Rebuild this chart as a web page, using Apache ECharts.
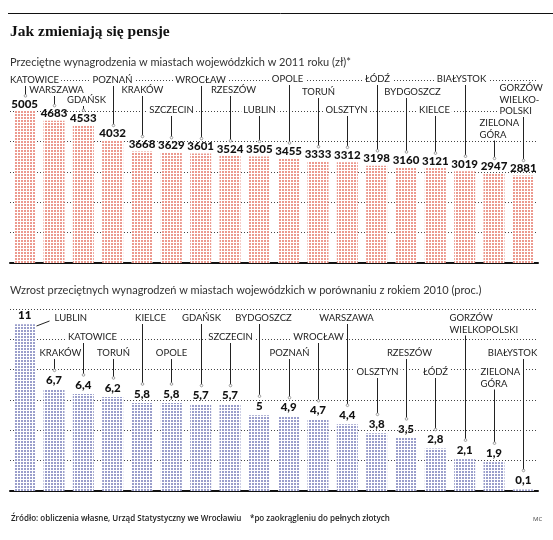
<!DOCTYPE html>
<html>
<head>
<meta charset="utf-8">
<script src="https://cdn.jsdelivr.net/npm/echarts@6/dist/echarts.min.js"></script>
<style>
html,body{margin:0;padding:0;background:#fff;}
#chartsDiv{width:553px;height:540px;}
</style>
</head>
<body>
<div id="chartsDiv"></div>
<script>
// dane - wynagrodzenia 2011 (zł)
var wageCities = ['KATOWICE','WARSZAWA','GDAŃSK','POZNAŃ','KRAKÓW','SZCZECIN','WROCŁAW','RZESZÓW','LUBLIN',
	'OPOLE','TORUŃ','OLSZTYN','ŁÓDŹ','BYDGOSZCZ','KIELCE','BIAŁYSTOK','ZIELONA\nGÓRA','GORZÓW\nWIELKO-\nPOLSKI'];
var wageValues = [5005,4683,4533,4032,3668,3629,3601,3524,3505,3455,3333,3312,3198,3160,3121,3019,2947,2881];
var wageTicks = [0,1000,2000,3000,4000,5000,6000];

// dane - wzrost wobec 2010 (proc.)
var growthCities = ['LUBLIN','KRAKÓW','KATOWICE','TORUŃ','KIELCE','OPOLE','GDAŃSK','SZCZECIN','BYDGOSZCZ',
	'POZNAŃ','WROCŁAW','WARSZAWA','OLSZTYN','RZESZÓW','ŁÓDŹ','GORZÓW\nWIELKOPOLSKI','ZIELONA\nGÓRA','BIAŁYSTOK'];
var growthValues = [11,6.7,6.4,6.2,5.8,5.8,5.7,5.7,5,4.9,4.7,4.4,3.8,3.5,2.8,2.1,1.9,0.1];
var growthTicks = [0,2,4,6,8,10,12];

// ukladanie podpisow miast: przesuniecie od srodka slupka, wysokosc wiersza (px)
var wageNameLayout = [
	{dx:9,y:80},{dx:2,y:90},{dx:3,y:100},{dx:-1,y:80},{dx:0,y:90},{dx:0,y:110},
	{dx:-1,y:80},{dx:3,y:90},{dx:0,y:110},{dx:-2,y:79},{dx:0,y:92},{dx:-1,y:110},
	{dx:0,y:79},{dx:6,y:92},{dx:-1,y:110},{dx:-4,y:79},{dx:-17,y:123,left:true},{dx:-26,y:88,left:true}
];
var growthNameLayout = [
	{dx:27,y:318,left:true,diag:true},{dx:6,y:353},{dx:9,y:337},{dx:0,y:353},{dx:8,y:318},{dx:0,y:353},
	{dx:0,y:318},{dx:0,y:337},{dx:4,y:318},{dx:0,y:353},{dx:0,y:337},{dx:-1,y:318},
	{dx:0,y:372},{dx:3,y:353},{dx:0,y:372},{dx:-18,y:318,left:true},{dx:-16,y:372,left:true},{dx:-11,y:353}
];

var LINE_H = 11.5;
var labelFont = '9.5px Lato, "Open Sans", sans-serif';

function dotPattern(color){
	var c = document.createElement('canvas');
	c.width = 3; c.height = 3;
	var ctx = c.getContext('2d');
	ctx.fillStyle = '#fff';
	ctx.fillRect(0,0,3,3);
	ctx.fillStyle = color;
	ctx.fillRect(0,0,2,2);
	return {image:c, repeat:'repeat'};
}

function toPoints(values){
	var out = [];
	for(var i=0;i<values.length;i++) out.push([i, values[i]]);
	return out;
}

// podpis miasta + linia odniesienia do wartosci
function leaderRender(names, layout, endGap){
	return function(params, api){
		var i = params.dataIndex;
		var p = api.coord([api.value(0), api.value(1)]);
		var cx = Math.round(p[0]) + 0.5, top = p[1];
		var lay = layout[i];
		var n = names[i].split('\n').length;
		var lastY = lay.y + (n-1)*LINE_H;
		var children = [{
			type:'text',
			x: cx + lay.dx,
			y: lay.y - LINE_H/2,
			style:{
				text:names[i], font:labelFont, fill:'#222',
				align: lay.left ? 'left' : 'center', verticalAlign:'top',
				lineHeight:LINE_H, backgroundColor:'#fff', padding:[0,2]
			}
		}];
		if(lay.diag){
			children.push({type:'line', shape:{x1:cx+11,y1:lay.y+8,x2:cx+24,y2:lay.y+3},
				style:{stroke:'#222',lineWidth:1}});
		}else{
			children.push({type:'line', shape:{x1:cx,y1:lastY+6,x2:cx,y2:top-endGap},
				style:{stroke:'#222',lineWidth:1}});
			children.push({type:'circle', shape:{cx:cx,cy:top-endGap,r:1.3},
				style:{fill:'#fff',stroke:'#888',lineWidth:0.8}});
		}
		return {type:'group', children:children};
	};
}

var splitStyle = {show:true, lineStyle:{type:[1,2], color:'#444', width:1}};

var chart = echarts.init(document.getElementById('chartsDiv'));
var opt = {
	animation:false,
	backgroundColor:'#fff',
	grid:[
		{left:10, right:15, top:263 - 182.4, bottom:540 - 263},
		{left:10, right:15, top:309, bottom:540 - 491}
	],
	xAxis:[
		{type:'category', gridIndex:0, data:wageCities, axisLabel:{show:false}, axisTick:{show:false},
			axisLine:{lineStyle:{color:'#111', width:2}}},
		{type:'category', gridIndex:1, data:growthCities, axisLabel:{show:false}, axisTick:{show:false},
			axisLine:{lineStyle:{color:'#111', width:2}}}
	],
	yAxis:[
		{type:'value', gridIndex:0, min:wageTicks[0], max:wageTicks[wageTicks.length-1], interval:1000,
			axisLabel:{show:false}, axisLine:{show:false}, axisTick:{show:false}, splitLine:splitStyle},
		{type:'value', gridIndex:1, min:growthTicks[0], max:growthTicks[growthTicks.length-1], interval:2,
			axisLabel:{show:false}, axisLine:{show:false}, axisTick:{show:false}, splitLine:splitStyle}
	],
	series:[
		{
			type:'bar', xAxisIndex:0, yAxisIndex:0, data:wageValues, barWidth:21,
			itemStyle:{color:dotPattern('#ec9a8f')},
			label:{show:true, position:'top', distance:1, color:'#111', fontSize:11.5, fontWeight:900,
				fontFamily:'Lato, "Open Sans", sans-serif'}
		},
		{
			type:'bar', xAxisIndex:1, yAxisIndex:1, data:growthValues, barWidth:21,
			itemStyle:{color:dotPattern('#9a9ecb')},
			label:{show:true, position:'top', distance:3, color:'#111', fontSize:11.5, fontWeight:900,
				fontFamily:'Lato, "Open Sans", sans-serif',
				formatter:function(p){ return String(p.value).replace('.', ','); }}
		},
		{
			type:'custom', xAxisIndex:0, yAxisIndex:0, data:toPoints(wageValues), clip:false, z:5,
			renderItem:leaderRender(wageCities, wageNameLayout, 15)
		},
		{
			type:'custom', xAxisIndex:1, yAxisIndex:1, data:toPoints(growthValues), clip:false, z:5,
			renderItem:leaderRender(growthCities, growthNameLayout, 19)
		}
	],
	graphic:[
		{type:'line', shape:{x1:8,y1:13.5,x2:553,y2:13.5}, style:{stroke:'#111',lineWidth:1}},
		{type:'text', x:10, y:32, style:{text:'Jak zmieniają się pensje', font:'bold 15.5px "Liberation Serif", serif',
			fill:'#111', verticalAlign:'middle'}},
		{type:'text', x:10, y:62, style:{text:'Przeciętne wynagrodzenia w miastach wojewódzkich w 2011 roku (zł)*',
			font:'11px Lato, sans-serif', fill:'#333', verticalAlign:'middle'}},
		{type:'text', x:10, y:290, style:{text:'Wzrost przeciętnych wynagrodzeń w miastach wojewódzkich w porównaniu z rokiem 2010 (proc.)',
			font:'11px Lato, sans-serif', fill:'#333', verticalAlign:'middle'}},
		{type:'text', x:11, y:519, style:{text:'Źródło: obliczenia własne, Urząd Statystyczny we Wrocławiu',
			font:'600 8px "Open Sans", sans-serif', fill:'#222', verticalAlign:'middle'}},
		{type:'text', x:250, y:519, style:{text:'*po zaokrągleniu do pełnych złotych',
			font:'600 8px "Open Sans", sans-serif', fill:'#222', verticalAlign:'middle'}},
		{type:'text', x:533, y:519, style:{text:'MC', font:'6px "Open Sans", sans-serif', fill:'#444', verticalAlign:'middle'}}
	]
};
chart.setOption(opt);
</script>
</body>
</html>
